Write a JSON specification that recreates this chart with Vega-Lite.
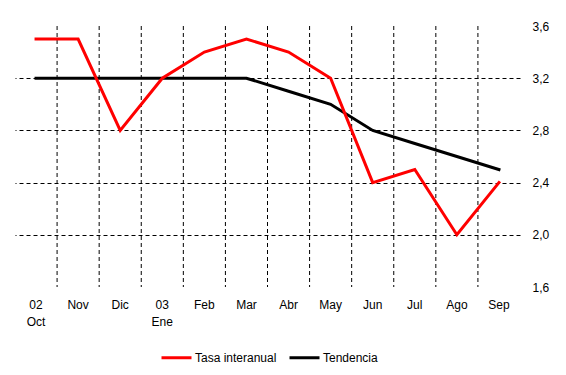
{
  "$schema": "https://vega.github.io/schema/vega-lite/v6.json",
  "width": 505,
  "height": 261,
  "autosize": {"type": "none"},
  "padding": {"left": 15, "top": 26, "right": 46, "bottom": 88},
  "background": "white",
  "config": {
    "view": {"stroke": null},
    "font": "Liberation Sans",
    "axis": {"labelFont": "Liberation Sans", "labelFontSize": 12, "labelColor": "black"},
    "legend": {"labelFont": "Liberation Sans", "labelFontSize": 12, "labelColor": "black"}
  },
  "data": {
    "values": [
      {"mes": "Oct", "serie": "Tasa interanual", "valor": 3.5},
      {"mes": "Nov", "serie": "Tasa interanual", "valor": 3.5},
      {"mes": "Dic", "serie": "Tasa interanual", "valor": 2.8},
      {"mes": "Ene", "serie": "Tasa interanual", "valor": 3.2},
      {"mes": "Feb", "serie": "Tasa interanual", "valor": 3.4},
      {"mes": "Mar", "serie": "Tasa interanual", "valor": 3.5},
      {"mes": "Abr", "serie": "Tasa interanual", "valor": 3.4},
      {"mes": "May", "serie": "Tasa interanual", "valor": 3.2},
      {"mes": "Jun", "serie": "Tasa interanual", "valor": 2.4},
      {"mes": "Jul", "serie": "Tasa interanual", "valor": 2.5},
      {"mes": "Ago", "serie": "Tasa interanual", "valor": 2.0},
      {"mes": "Sep", "serie": "Tasa interanual", "valor": 2.4},
      {"mes": "Oct", "serie": "Tendencia", "valor": 3.2},
      {"mes": "Nov", "serie": "Tendencia", "valor": 3.2},
      {"mes": "Dic", "serie": "Tendencia", "valor": 3.2},
      {"mes": "Ene", "serie": "Tendencia", "valor": 3.2},
      {"mes": "Feb", "serie": "Tendencia", "valor": 3.2},
      {"mes": "Mar", "serie": "Tendencia", "valor": 3.2},
      {"mes": "Abr", "serie": "Tendencia", "valor": 3.1},
      {"mes": "May", "serie": "Tendencia", "valor": 3.0},
      {"mes": "Jun", "serie": "Tendencia", "valor": 2.8},
      {"mes": "Jul", "serie": "Tendencia", "valor": 2.7},
      {"mes": "Ago", "serie": "Tendencia", "valor": 2.6},
      {"mes": "Sep", "serie": "Tendencia", "valor": 2.5}
    ]
  },
  "encoding": {
    "x": {
      "field": "mes", "type": "nominal",
      "sort": ["Oct", "Nov", "Dic", "Ene", "Feb", "Mar", "Abr", "May", "Jun", "Jul", "Ago", "Sep"],
      "scale": {"type": "band", "paddingInner": 0, "paddingOuter": 0,
        "domain": ["Oct", "Nov", "Dic", "Ene", "Feb", "Mar", "Abr", "May", "Jun", "Jul", "Ago", "Sep"]},
      "axis": {
        "title": null, "domain": false, "ticks": false, "grid": false,
        "labelAngle": 0, "labelPadding": 12, "labelLineHeight": 17,
        "labelExpr": "datum.value == 'Oct' ? ['02', 'Oct'] : datum.value == 'Ene' ? ['03', 'Ene'] : datum.value"
      }
    }
  },
  "layer": [
    {
      "transform": [{"filter": "datum.serie == 'Tendencia' && datum.mes != 'Oct'"}],
      "mark": {"type": "rule", "color": "black", "strokeWidth": 1, "strokeDash": [4, 3]},
      "encoding": {
        "x": {"field": "mes", "type": "nominal", "bandPosition": 0}
      }
    },
    {
      "transform": [{"filter": "datum.serie == 'Tendencia'"}],
      "mark": {"type": "line", "strokeWidth": 3, "strokeCap": "square"},
      "encoding": {
        "x": {"field": "mes", "type": "nominal", "bandPosition": 0.5},
        "y": {
          "field": "valor", "type": "quantitative",
          "scale": {"domain": [1.6, 3.6], "nice": false, "zero": false},
          "axis": {
            "orient": "right", "title": null, "domain": false, "ticks": false,
            "values": [1.6, 2.0, 2.4, 2.8, 3.2, 3.6],
            "labelPadding": 12,
            "labelExpr": "replace(format(datum.value, '.1f'), '.', ',')",
            "grid": true, "gridColor": "black", "gridDash": [4, 3], "gridWidth": 1,
            "gridOpacity": {"condition": {"test": "datum.value < 1.61 || datum.value > 3.59", "value": 0}, "value": 1}
          }
        },
        "color": {
          "field": "serie", "type": "nominal",
          "scale": {"domain": ["Tasa interanual", "Tendencia"], "range": ["#ff0000", "#000000"]},
          "legend": {
            "title": null, "orient": "none", "direction": "horizontal",
            "legendX": 145, "legendY": 315,
            "symbolType": "stroke", "symbolSize": 900, "symbolStrokeWidth": 3,
            "labelOffset": 2, "columnPadding": 6
          }
        }
      }
    },
    {
      "transform": [{"filter": "datum.serie == 'Tasa interanual'"}],
      "mark": {"type": "line", "strokeWidth": 3, "strokeCap": "square"},
      "encoding": {
        "x": {"field": "mes", "type": "nominal", "bandPosition": 0.5},
        "y": {"field": "valor", "type": "quantitative"},
        "color": {"field": "serie", "type": "nominal"}
      }
    }
  ]
}
